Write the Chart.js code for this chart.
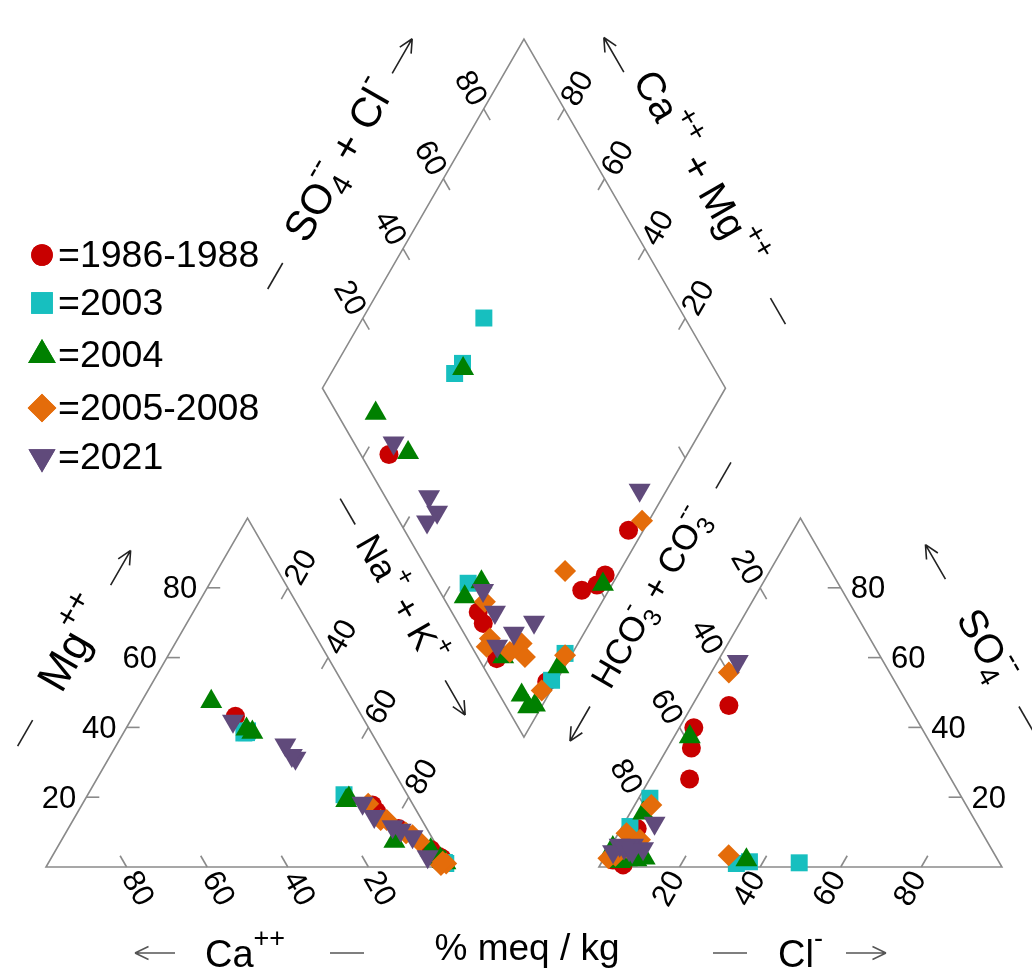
<!DOCTYPE html>
<html>
<head>
<meta charset="utf-8">
<script src="https://cdn.jsdelivr.net/npm/chart.js@4.4.0/dist/chart.umd.min.js"></script>
<style>
  html, body { margin: 0; padding: 0; background: #fff; }
  #wrap { width: 1032px; height: 979px; }
</style>
</head>
<body>
<div id="wrap"><canvas id="piper"></canvas></div>
<script>
// legend / series
const seriesNames = ['=1986-1988', '=2003', '=2004', '=2005-2008', '=2021'];
const seriesColors = ['#c80000', '#17bfbf', '#008000', '#e46c0a', '#604a7b'];
const seriesStyles = ['circle', 'rect', 'triangle', 'rectRot', 'triangle'];
const seriesRotation = [0, 0, 0, 0, 180];
const seriesRadius = [9.5, 12, 12.7, 11, 12.7];

// cation triangle, [Ca %, Mg %]  (Na+K = rest)
const redCat = [[31.4, 43.2], [10.1, 17.8], [10, 16], [7, 11], [1, 3], [0.5, 2.5], [2, 5], [1.2, 2.5], [0.8, 1.5]];
const cyanCat = [[31.7, 38.4], [31, 38.5], [30.5, 39], [15.7, 20.7], [0.5, 1.3], [0.3, 1]];
const greenCat = [[35.3, 47.4], [29.5, 38.6], [30.5, 39.5], [15, 19.7], [16, 19], [9.9, 7.3], [2.1, 4.9], [0.8, 1.5], [0.3, 1.2], [0.5, 1.3], [1, 2.3]];
const orangeCat = [[0.2, 1], [4.5, 9.1], [11, 18.1], [10.2, 13.5], [8.7, 13.5], [5.8, 9.7], [3.7, 7.3], [5.8, 9.9], [1.7, 0.6], [0.8, 1.5]];
const purpleCat = [[32.7, 41.8], [23.1, 35], [22.5, 31.2], [23, 32], [3.8, 3], [12.3, 18.3], [11.3, 14.5], [6.7, 10.6], [4.7, 8.7], [8.2, 11.6]];

// anion triangle, [Cl %, SO4 %]  (HCO3+CO3 = rest)
const redAn = [[9.1, 46.3], [3.6, 39.9], [5.9, 34.1], [9.9, 25.2], [4, 11], [5.7, 0.6], [3.5, 3], [2.5, 2], [4, 3]];
const cyanAn = [[49.1, 1.2], [36.6, 1.5], [33.6, 1], [2.8, 19.7], [1.9, 11.6], [3, 5]];
const greenAn = [[35.6, 2], [3.9, 37.3], [3.3, 15.4], [0.7, 5.5], [5.9, 2], [10.1, 2.5], [8.3, 2], [7.5, 2.5], [3, 2.5], [2, 4.3], [4.5, 1.5]];
const orangeAn = [[4.4, 55.7], [30.5, 3.4], [4.1, 17.8], [2, 9.7], [6.3, 7.8], [1.1, 2.5], [4, 5.5], [2.5, 3.2], [5.5, 5.5], [3.5, 5.2]];
const purpleAn = [[5, 58.9], [7.5, 12.6], [2, 6.3], [5.3, 6.3], [8.3, 5.3], [1.3, 4.4], [4.5, 6], [5, 5], [3.5, 5.5], [6, 4.5]];

// diamond, [SO4+Cl %, Ca+Mg %]
const redDia = [[7, 74], [6.6, 29.3], [6.2, 26.4], [4.5, 18], [55.6, 3.7], [43.4, 3.1], [35.4, 6.7], [39.9, 3.7], [13.6, 2.3]];
const cyanDia = [[50.1, 70], [38.3, 68.8], [34.9, 69.3], [8.2, 35.9], [22.2, 1.8], [15, 1.3]];
const greenDia = [[37.7, 67.9], [9.6, 83.2], [12, 69.5], [11.7, 32.8], [5.4, 34.8], [6.35, 16.65], [41.5, 2.3], [18.6, 1.5], [5.45, 6.6], [7.3, 1.85], [5.4, 3.3]];
const orangeDia = [[60.3, 1.7], [34, 13.6], [9.7, 29.1], [5.7, 22.6], [3.7, 22.2], [12.85, 14], [11.75, 11.25], [8.7, 15.7], [21.95, 1.55], [11.1, 2.3]];
const purpleDia = [[9.8, 74.5], [10.9, 58], [10.7, 53.8], [6.8, 54.9], [64.1, 6.7], [10.9, 31.2], [10.7, 25.1], [12.4, 17.4], [19, 14], [6.4, 19.7]];

const tickValues = [20, 40, 60, 80];

const catSets = [redCat, cyanCat, greenCat, orangeCat, purpleCat];
const anSets = [redAn, cyanAn, greenAn, orangeAn, purpleAn];
const diaSets = [redDia, cyanDia, greenDia, orangeDia, purpleDia];

// geometry (triangle side = 1)
const H = Math.sqrt(3) / 2;
const GAP = 0.372;
const OX = 1 + GAP;
const BOT = [1 + GAP / 2, GAP / 2 * Math.sqrt(3)];

function catXY(p) {
  const na = 100 - p[0] - p[1];
  return { x: (na + 0.5 * p[1]) / 100, y: H * p[1] / 100 };
}
function anXY(p) {
  return { x: OX + (p[0] + 0.5 * p[1]) / 100, y: H * p[1] / 100 };
}
function diaXY(p) {
  return { x: BOT[0] + 0.5 * (p[0] - p[1]) / 100, y: BOT[1] + H * (p[0] + p[1]) / 100 };
}

const L1 = [0, 0], R1 = [1, 0], A1 = [0.5, H];
const L2 = [OX, 0], R2 = [OX + 1, 0], A2 = [OX + 0.5, H];
const DL = [BOT[0] - 0.5, BOT[1] + H], DR = [BOT[0] + 0.5, BOT[1] + H], DT = [BOT[0], BOT[1] + 2 * H];

const edges = [
  { p0: L1, p1: A1, dir: [1, 0], lab: true },
  { p0: R1, p1: L1, dir: [-0.5, H], lab: true },
  { p0: A1, p1: R1, dir: [-0.5, -H], lab: true },
  { p0: R2, p1: A2, dir: [-1, 0], lab: true },
  { p0: L2, p1: R2, dir: [0.5, H], lab: true },
  { p0: A2, p1: L2, dir: [0.5, -H], lab: true },
  { p0: DL, p1: DT, dir: [0.5, -H], lab: true },
  { p0: DR, p1: DT, dir: [-0.5, -H], lab: true },
  { p0: BOT, p1: DL, dir: [0.5, H], lab: false },
  { p0: BOT, p1: DR, dir: [-0.5, H], lab: false }
];

const FONT = '"Liberation Sans", Arial, sans-serif';
const FONT2 = '"Liberation Sans Narrow", "Liberation Sans", Arial, sans-serif';

function partsWidth(ctx, parts, size, fam) {
  let w = 0;
  for (const p of parts) {
    if (p.t) { ctx.font = size + 'px ' + fam; w += ctx.measureText(p.t).width; }
    else {
      ctx.font = Math.round(size * 0.72) + 'px ' + fam;
      w += Math.max(p.sup ? ctx.measureText(p.sup).width : 0, p.sub ? ctx.measureText(p.sub).width : 0);
    }
  }
  return w;
}
function drawRich(ctx, parts, cx, cy, angle, size, fam, align) {
  ctx.save();
  ctx.translate(cx, cy);
  ctx.rotate(angle);
  ctx.textBaseline = 'middle';
  ctx.textAlign = 'left';
  ctx.fillStyle = '#000';
  const w = partsWidth(ctx, parts, size, fam);
  let x = align === 'left' ? 0 : -w / 2;
  for (const p of parts) {
    if (p.t) {
      ctx.font = size + 'px ' + fam;
      ctx.fillText(p.t, x, 0);
      x += ctx.measureText(p.t).width;
    } else {
      ctx.font = Math.round(size * 0.72) + 'px ' + fam;
      if (p.sup) ctx.fillText(p.sup, x, -size * 0.45);
      if (p.sub) ctx.fillText(p.sub, x, size * 0.32);
      x += Math.max(p.sup ? ctx.measureText(p.sup).width : 0, p.sub ? ctx.measureText(p.sub).width : 0);
    }
  }
  ctx.restore();
}
function drawDash(ctx, cx, cy, ang, len) {
  const dx = Math.cos(ang) * len / 2, dy = Math.sin(ang) * len / 2;
  ctx.beginPath();
  ctx.moveTo(cx - dx, cy - dy);
  ctx.lineTo(cx + dx, cy + dy);
  ctx.stroke();
}
function drawArrow(ctx, cx, cy, ang, len) {
  const dx = Math.cos(ang) * len / 2, dy = Math.sin(ang) * len / 2;
  const hx = cx + dx, hy = cy + dy;
  ctx.beginPath();
  ctx.moveTo(cx - dx, cy - dy);
  ctx.lineTo(hx, hy);
  for (const s of [-1, 1]) {
    const a = ang + Math.PI + s * 0.45;
    ctx.moveTo(hx, hy);
    ctx.lineTo(hx + Math.cos(a) * 15, hy + Math.sin(a) * 15);
  }
  ctx.stroke();
}

// axis titles along edges (offsets in px from the edge midpoint)
const titles = [
  { a: L1, b: A1, n: 85, dash: -96, label: 5, arrow: 95, arrowDir: 1, size: 44,
    parts: [{ t: 'Mg' }, { sup: '++' }] },
  { a: DL, b: DT, n: 97, dash: -128, label: 4, arrow: 126, arrowDir: 1, size: 42,
    parts: [{ t: 'SO' }, { sub: '4', sup: '--' }, { t: ' + Cl' }, { sup: '-' }] },
  { a: DT, b: DR, n: 84, dash: 161, label: -2, arrow: -143, arrowDir: -1, arrowN: 70, size: 40,
    parts: [{ t: 'Ca' }, { sup: '++' }, { t: ' + Mg' }, { sup: '++' }] },
  { a: A1, b: R1, n: 90, dash: -157, label: -55, arrow: 58, arrowDir: 1, size: 36,
    parts: [{ t: 'Na' }, { sup: '+' }, { t: ' + K' }, { sup: '+' }] },
  { a: L2, b: A2, n: 88, dash: 200, label: 57, arrow: -87, arrowDir: -1, size: 35,
    parts: [{ t: 'HCO' }, { sub: '3', sup: '-' }, { t: ' + CO' }, { sub: '3', sup: '--' }] },
  { a: A2, b: R2, n: 95, dash: 86, label: 2, arrow: -96, arrowDir: -1, size: 40,
    parts: [{ t: 'SO' }, { sub: '4', sup: '--' }] }
];

const framePlugin = {
  id: 'piperFrame',
  beforeDatasetsDraw(chart) {
    const ctx = chart.ctx, xs = chart.scales.x, ys = chart.scales.y;
    const P = (q) => [xs.getPixelForValue(q[0]), ys.getPixelForValue(q[1])];
    ctx.save();
    // outlines
    ctx.strokeStyle = '#8a8a8a';
    ctx.lineWidth = 1.6;
    ctx.lineJoin = 'miter';
    for (const poly of [[L1, R1, A1], [L2, R2, A2], [BOT, DR, DT, DL]]) {
      ctx.beginPath();
      poly.forEach((q, i) => { const p = P(q); i ? ctx.lineTo(p[0], p[1]) : ctx.moveTo(p[0], p[1]); });
      ctx.closePath();
      ctx.stroke();
    }
    // ticks and tick labels
    ctx.font = '31px ' + FONT;
    ctx.fillStyle = '#000';
    ctx.textBaseline = 'middle';
    for (const e of edges) {
      const sx = e.dir[0], sy = -e.dir[1];
      for (const v of tickValues) {
        const q = [e.p0[0] + (e.p1[0] - e.p0[0]) * v / 100, e.p0[1] + (e.p1[1] - e.p0[1]) * v / 100];
        const p = P(q);
        ctx.beginPath();
        ctx.moveTo(p[0], p[1]);
        ctx.lineTo(p[0] + sx * 13, p[1] + sy * 13);
        ctx.stroke();
        if (!e.lab) continue;
        const ox = -sx, oy = -sy;
        const horiz = Math.abs(oy) < 0.01;
        const off = horiz ? 10 : 7;
        ctx.save();
        ctx.translate(p[0] + ox * off, p[1] + oy * off);
        if (ox >= 0) { ctx.rotate(Math.atan2(oy, ox)); ctx.textAlign = 'left'; }
        else { ctx.rotate(Math.atan2(-oy, -ox)); ctx.textAlign = 'right'; }
        ctx.fillText(String(v), 0, 2);
        ctx.restore();
      }
    }
    // axis titles
    ctx.strokeStyle = '#222';
    ctx.lineWidth = 1.6;
    for (const t of titles) {
      const pa = P(t.a), pb = P(t.b);
      const len = Math.hypot(pb[0] - pa[0], pb[1] - pa[1]);
      const tx = (pb[0] - pa[0]) / len, ty = (pb[1] - pa[1]) / len;
      let nx = ty, ny = -tx;
      if (ny > 0) { nx = -nx; ny = -ny; }
      const mx = (pa[0] + pb[0]) / 2, my = (pa[1] + pb[1]) / 2;
      const at = (s, n) => [mx + tx * s + nx * n, my + ty * s + ny * n];
      const ang = Math.atan2(ty, tx);
      const d = at(t.dash, t.n);
      drawDash(ctx, d[0], d[1], ang, 30);
      const r = at(t.arrow, t.arrowN || t.n);
      drawArrow(ctx, r[0], r[1], t.arrowDir > 0 ? ang : ang + Math.PI, 40);
      const c = at(t.label, t.n);
      drawRich(ctx, t.parts, c[0], c[1], ang, t.size, FONT, 'center');
    }
    // bottom row
    ctx.strokeStyle = '#555';
    ctx.lineWidth = 1.5;
    drawArrow(ctx, 155, 953, Math.PI, 40);
    drawDash(ctx, 347, 953, 0, 34);
    drawDash(ctx, 730, 953, 0, 34);
    drawArrow(ctx, 866, 953, 0, 40);
    drawRich(ctx, [{ t: 'Ca' }, { sup: '++' }], 205, 957, 0, 38, FONT2, 'left');
    drawRich(ctx, [{ t: 'Cl' }, { sup: '-' }], 778, 957, 0, 38, FONT2, 'left');
    drawRich(ctx, [{ t: '% meq / kg' }], 527, 950, 0, 37, FONT2, 'center');
    ctx.restore();
  },
  afterDatasetsDraw(chart) {
    const ctx = chart.ctx;
    const rows = [255, 303, 355, 408, 457];
    const legR = [10.8, 15.3, 16, 14.3, 15.6];
    ctx.save();
    seriesNames.forEach((name, i) => {
      ctx.fillStyle = seriesColors[i];
      ctx.strokeStyle = seriesColors[i];
      Chart.helpers.drawPoint(ctx, { pointStyle: seriesStyles[i], rotation: seriesRotation[i], radius: legR[i], borderWidth: 0 }, 42, rows[i]);
      ctx.fill();
      ctx.fillStyle = '#000';
      ctx.font = '37.5px ' + FONT;
      ctx.textBaseline = 'middle';
      ctx.textAlign = 'left';
      ctx.fillText(name, 58, rows[i] + 2);
    });
    ctx.restore();
  }
};

const datasets = seriesNames.map((name, i) => ({
  label: name,
  data: [...catSets[i].map(catXY), ...anSets[i].map(anXY), ...diaSets[i].map(diaXY)],
  pointStyle: seriesStyles[i],
  rotation: seriesRotation[i],
  pointRadius: seriesRadius[i],
  pointHoverRadius: seriesRadius[i],
  pointBorderWidth: 0,
  backgroundColor: seriesColors[i],
  borderColor: seriesColors[i],
  showLine: false,
  clip: false,
  order: 4 - i
}));

new Chart(document.getElementById('piper'), {
  type: 'scatter',
  data: { datasets },
  options: {
    responsive: true,
    maintainAspectRatio: false,
    animation: false,
    devicePixelRatio: 1,
    layout: { padding: 0, autoPadding: false },
    plugins: { legend: { display: false }, tooltip: { enabled: false } },
    scales: {
      x: { type: 'linear', display: false, min: -46 / 403, max: 986 / 403 },
      y: { type: 'linear', display: false, min: -112 / 403, max: 867 / 403 }
    }
  },
  plugins: [framePlugin]
});
</script>
</body>
</html>
